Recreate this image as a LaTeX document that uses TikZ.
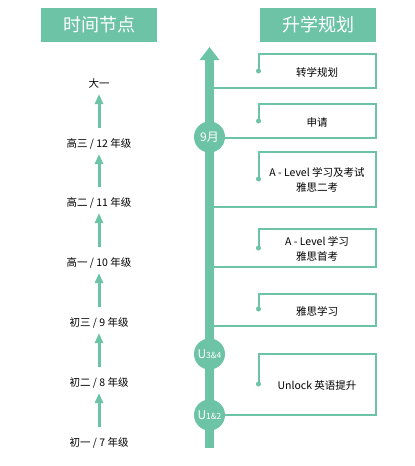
\documentclass[tikz,border=0pt]{standalone}
\usepackage{fontspec}
\setmainfont{Noto Sans CJK SC}
\usetikzlibrary{arrows.meta}
\definecolor{tgreen}{RGB}{109,195,166}
\tikzset{
  header/.style={fill=tgreen, text=white, minimum width=116pt, minimum height=34pt, inner sep=0pt, font=\fontsize{18}{20}\selectfont},
  lbl/.style={inner sep=0pt, font=\fontsize{10.5}{12}\selectfont},
  larr/.style={draw=tgreen, line width=3pt, -{Triangle[width=8pt,length=10pt]}},
  boxline/.style={draw=tgreen, line width=2pt},
  boxtxt/.style={inner sep=0pt, align=center, font=\fontsize{10.5}{15}\selectfont},
  dotc/.style={circle, fill=tgreen, inner sep=0pt, minimum size=5pt},
  month/.style={circle, fill=tgreen, text=white, inner sep=0pt, minimum size=31pt, font=\fontsize{12}{14}\selectfont},
}
\begin{document}
\begin{tikzpicture}[x=1pt,y=-1pt]
\useasboundingbox[fill=white] (0,0) rectangle (415,466);
% headers
\node[header] (h1) at (99,25) {时间节点};
\node[header] (h2) at (318,25) {升学规划};
% left labels
\node[lbl] (l1) at (99,84) {大一};
\node[lbl] (l2) at (99,144) {高三 / 12 年级};
\node[lbl] (l3) at (99,203) {高二 / 11 年级};
\node[lbl] (l4) at (99,263) {高一 / 10 年级};
\node[lbl] (l5) at (99,323) {初三 / 9 年级};
\node[lbl] (l6) at (99,383) {初二 / 8 年级};
\node[lbl] (l7) at (99,443) {初一 / 7 年级};
\foreach \a/\b in {l2/l1,l3/l2,l4/l3,l5/l4,l6/l5,l7/l6}
  \draw[larr] ([yshift=16pt]\a.center) -- ([yshift=-10pt]\b.center);
% right boxes
\coordinate (sp) at (209.5,0);
\foreach \i/\t/\b/\d in {1/54/88/71, 2/104/138/121, 3/152/207/179, 4/229/267/248, 5/294/326/309, 6/354/415/384}{
  \node[dotc] (d\i) at (258.5,\d) {};
  \draw[boxline] (d\i.center) |- (376,\t) |- (sp |- 0,\b);
}
\node[boxtxt] (t1) at (317,72) {转学规划};
\node[boxtxt] (t2) at (317,123) {申请};
\node[boxtxt] (t3) at (317,180) {A - Level 学习及考试\\雅思二考};
\node[boxtxt] (t4) at (317,249) {A - Level 学习\\雅思首考};
\node[boxtxt] (t5) at (317,311) {雅思学习};
\node[boxtxt] (t6) at (317,386) {Unlock 英语提升};
% main spine
\coordinate (sb) at (209.5,448);
\coordinate (st) at (209.5,47);
\draw[draw=tgreen, line width=9.5pt, -{Triangle[width=19pt,length=13pt]}] (sb) -- (st);
% circles
\node[month] (m1) at (209.5,137) {9月};
\node[month] (m2) at (209.5,354) {U\fontsize{8.5}{10}\selectfont 3\&4};
\node[month] (m3) at (209.5,415) {U\fontsize{8.5}{10}\selectfont 1\&2};
\end{tikzpicture}
\end{document}
